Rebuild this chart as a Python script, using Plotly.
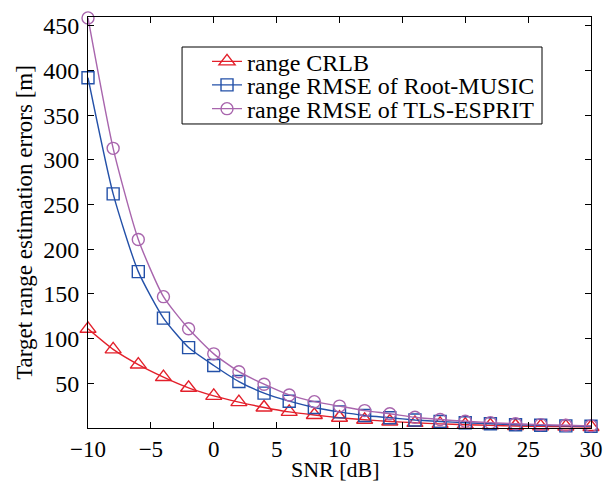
import plotly.graph_objects as go

snr_db = [-10, -8, -6, -4, -2, 0, 2, 4, 6, 8, 10, 12, 14, 16, 18, 20, 22, 24, 26, 28, 30]

crlb = [111, 88, 71, 57, 45, 36, 29, 23, 18, 14.5, 11.5, 9.2, 7.3, 5.8, 4.6, 3.7, 2.9, 2.3, 1.8, 1.5, 1.2]
root_music = [392, 262, 175, 123, 90, 70, 52, 39, 30, 23, 18, 14, 11.5, 9, 7.3, 5.9, 4.7, 3.7, 3.0, 2.4, 1.9]
tls_esprit = [459, 313, 211, 147, 111, 83, 63, 49, 37, 29.5, 24.5, 19.5, 16, 12, 9.5, 7.5, 6, 4.7, 3.8, 3.0, 2.4]

x_ticks = [-10, -5, 0, 5, 10, 15, 20, 25, 30]
x_tick_labels = ["\u221210", "\u22125", "0", "5", "10", "15", "20", "25", "30"]
y_ticks = [50, 100, 150, 200, 250, 300, 350, 400, 450]

series = [
    ("range CRLB", crlb, "#e3202b", "triangle-up-open", 14, "legend"),
    ("range RMSE of Root-MUSIC", root_music, "#2350a8", "square-open", 12, "legend2"),
    ("range RMSE of TLS-ESPRIT", tls_esprit, "#a865ad", "circle-open", 12, "legend3"),
]

font = "Liberation Serif, Times New Roman, serif"

fig = go.Figure()
for name, values, color, symbol, size, legend_id in series:
    fig.add_trace(go.Scatter(
        x=snr_db, y=values, name=name, mode="lines+markers",
        line=dict(color=color, width=1.4, shape="spline", smoothing=0.6),
        marker=dict(symbol=symbol, size=size, color=color, line=dict(color=color, width=1.4)),
        cliponaxis=False, legend=legend_id,
    ))

# one legend per entry so the rows can sit closer together inside a single framed box
row_y = {"legend": 0.891, "legend2": 0.834, "legend3": 0.776}
legend_style = dict(
    x=0.2366, xanchor="left", yanchor="middle",
    bgcolor="rgba(0,0,0,0)", borderwidth=0,
    font=dict(family=font, size=24, color="black"),
)

fig.update_layout(
    width=610, height=485,
    margin=dict(l=88, r=19, t=17, b=57, autoexpand=False),
    paper_bgcolor="white", plot_bgcolor="white",
    font=dict(family=font, size=23, color="black"),
    showlegend=True,
    legend=dict(y=row_y["legend"], **legend_style),
    legend2=dict(y=row_y["legend2"], **legend_style),
    legend3=dict(y=row_y["legend3"], **legend_style),
    shapes=[dict(
        type="rect", xref="paper", yref="paper",
        x0=0.187, x1=0.9026, y0=0.7397, y1=0.927,
        line=dict(color="black", width=1), fillcolor="white", layer="above",
    )],
    annotations=[dict(
        text="SNR [dB]", xref="paper", yref="paper", x=0.492, y=0,
        xanchor="center", yanchor="bottom", yshift=-56, showarrow=False,
        font=dict(family=font, size=22, color="black"),
    )],
    xaxis=dict(
        range=[-10, 30], tickvals=x_ticks, ticktext=x_tick_labels,
        ticks="inside", ticklen=6, tickcolor="black", mirror="allticks",
        showline=True, linecolor="black", linewidth=1, showgrid=False, zeroline=False,
        automargin=False, ticklabelstandoff=0,
        tickfont=dict(family=font, size=23),
    ),
    yaxis=dict(
        range=[0, 460], tickvals=y_ticks,
        ticks="inside", ticklen=6, tickcolor="black", mirror="allticks",
        showline=True, linecolor="black", linewidth=1, showgrid=False, zeroline=False,
        automargin=False, ticklabelstandoff=3,
        tickfont=dict(family=font, size=24),
        title=dict(text="Target range estimation errors [m]", standoff=4, font=dict(family=font, size=23)),
    ),
)

fig.write_html("out.html")
